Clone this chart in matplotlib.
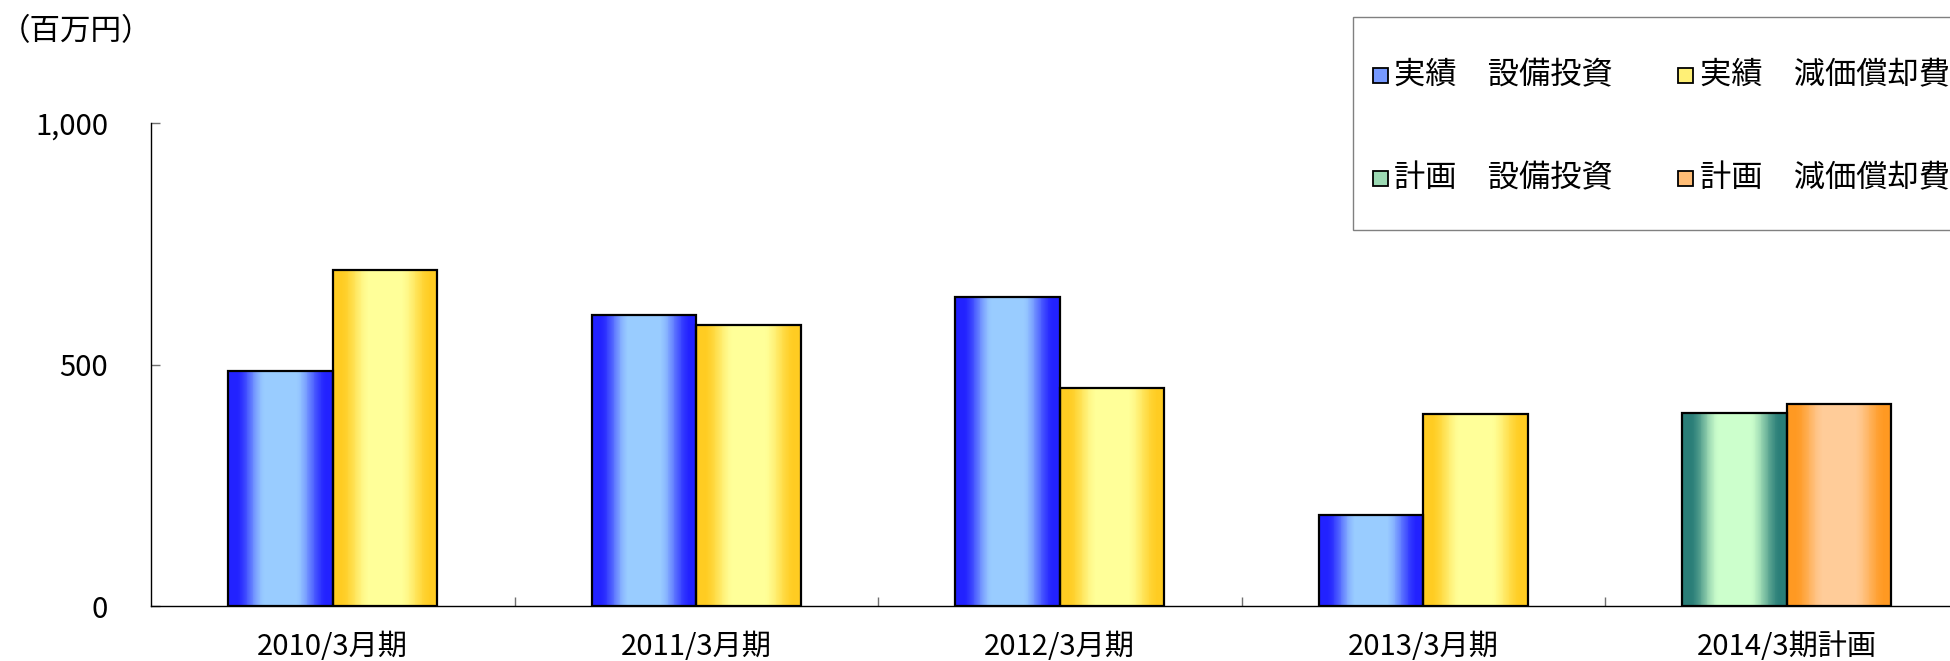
import numpy as np
import matplotlib
matplotlib.use("Agg")
import matplotlib.pyplot as plt
from matplotlib.patches import Rectangle
from matplotlib.colors import LinearSegmentedColormap

plt.rcParams['font.family'] = ['Noto Sans CJK JP', 'DejaVu Sans']

# ---- data ----
categories = ["2010/3月期", "2011/3月期", "2012/3月期", "2013/3月期", "2014/3期計画"]
series_labels = ["実績　設備投資", "実績　減価償却費", "計画　設備投資", "計画　減価償却費"]
actual_capex = [487, 602, 639, 188, np.nan]
actual_depr = [696, 582, 451, 397, np.nan]
plan_capex = [np.nan, np.nan, np.nan, np.nan, 400]
plan_depr = [np.nan, np.nan, np.nan, np.nan, 419]
yticks = [0, 500, 1000]
ytick_labels = ["0", "500", "1,000"]
unit_label = "（百万円）"

# gradient colors (edge, center)
grad_colors = [
    ("#2222FF", "#99CCFF"),
    ("#FFCC22", "#FFFF99"),
    ("#2A7E78", "#CCFFCC"),
    ("#FF9922", "#FFCC99"),
]
offsets = [-0.5, 0.5, -0.5, 0.5]
bar_w = 0.2875

W, H = 1950, 661
fig = plt.figure(figsize=(W / 100, H / 100), dpi=100)
ax = fig.add_axes([151 / W, (H - 606) / H, 1817.5 / W, 483 / H])

n = 120
u = np.linspace(0, 1, n)
prof = np.interp(u, [0.0, 0.07, 0.36, 0.64, 0.95, 1.0], [0.0, 0.0, 1.0, 1.0, 0.0, 0.0])
prof = prof * prof * (3 - 2 * prof)

x = np.arange(len(categories))
all_series = [actual_capex, actual_depr, plan_capex, plan_depr]
for vals, off, (ec, cc) in zip(all_series, offsets, grad_colors):
    bars = ax.bar(x + off * bar_w, vals, width=bar_w, facecolor='none',
                  edgecolor='black', linewidth=1.6, zorder=3)
    cmap = LinearSegmentedColormap.from_list("g", [ec, cc])
    for r in bars:
        h = r.get_height()
        if np.isnan(h):
            continue
        x0 = r.get_x()
        xe = np.linspace(x0, x0 + r.get_width(), n + 1)
        ax.pcolormesh(xe, [0, h], prof[np.newaxis, :], cmap=cmap, vmin=0, vmax=1,
                      shading='flat', zorder=2, antialiased=False, linewidth=0)

ax.set_xlim(-0.5, len(categories) - 0.5)
ax.set_ylim(0, 1000)

ax.set_xticks(x)
ax.set_xticklabels(categories, fontsize=21)
ax.set_xticks(np.arange(0.5, len(categories) - 1, 1.0), minor=True)
ax.tick_params(axis='x', which='major', length=0, pad=19)
ax.tick_params(axis='x', which='minor', direction='in', length=6.5, color='#707070', width=1)

ax.set_yticks(yticks)
ax.set_yticklabels(ytick_labels, fontsize=21)
ax.tick_params(axis='y', direction='in', length=6.5, color='#707070', width=1, pad=31)

for s in ['top', 'right']:
    ax.spines[s].set_visible(False)
for s in ['left', 'bottom']:
    ax.spines[s].set_color('black')
    ax.spines[s].set_linewidth(1.0)

fig.text(0 / W, 1 - 32 / H, unit_label, fontsize=22, ha='left', va='center')

# ---- legend (manual) ----
fig.patches.append(Rectangle((1353 / W, (H - 230) / H), (1965 - 1353) / W, (230 - 17) / H,
                             transform=fig.transFigure, facecolor='white',
                             edgecolor='#808080', linewidth=1.0, zorder=5))
col_marker_x = [1373, 1678]
col_text_x = [1394, 1700]
row_y = [75, 178]
for i, (lab, (ec, cc)) in enumerate(zip(series_labels, grad_colors)):
    col, row = i % 2, i // 2
    cmap = LinearSegmentedColormap.from_list("g", [ec, cc])
    cy = row_y[row]
    fig.patches.append(Rectangle((col_marker_x[col] / W, (H - cy - 7.5) / H), 15 / W, 15 / H,
                                 transform=fig.transFigure, facecolor=cmap(0.7),
                                 edgecolor='black', linewidth=1.3, zorder=6))
    fig.text(col_text_x[col] / W, 1 - cy / H, lab, fontsize=22.5, ha='left', va='center', zorder=7)

fig.savefig("out.png", dpi=100)
